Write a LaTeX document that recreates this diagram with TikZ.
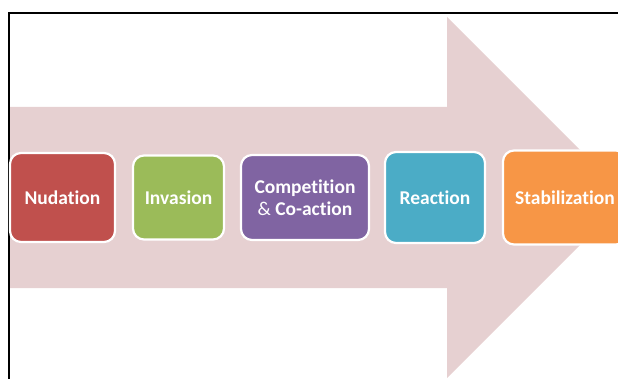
\documentclass[tikz,border=0pt]{standalone}
\usepackage{fontspec}
\setmainfont{Carlito}[Ligatures=NoCommon]
\usetikzlibrary{positioning}
\definecolor{pfeil}{RGB}{230,208,209}
\definecolor{rot}{RGB}{192,80,77}
\definecolor{gruen}{RGB}{155,187,89}
\definecolor{lila}{RGB}{128,100,162}
\definecolor{tuerkis}{RGB}{75,172,198}
\definecolor{orange}{RGB}{247,150,70}

\begin{document}
\begin{tikzpicture}[x=1pt,y=-1pt,
	stage/.style={rectangle, rounded corners=11pt, draw=white, line width=2.2pt,
		text=white, inner sep=0pt, outer sep=0pt, align=center,
		font=\bfseries\fontsize{19.5}{22.5}\selectfont},
	node distance=17pt]

	\useasboundingbox (0,0) rectangle (618,379);
	\clip (0,0) rectangle (618,379);

	% big arrow behind the stages
	\fill[pfeil] (9,107) -- (447,107) -- (447,17) -- (627.5,197.5)
		-- (447,378) -- (447,288) -- (9,288) -- cycle;

	% frame
	\draw[line width=2pt] (8.5,380) -- (8.5,13.5) -- (619,13.5);

	\node[stage, fill=rot, minimum width=105pt, minimum height=89pt] (nudation) at (62.5,197.5) {Nudation};
	\node[stage, fill=gruen, minimum width=91pt, minimum height=84pt, right=18pt of nudation] (invasion) {Invasion};
	\node[stage, fill=lila, minimum width=128pt, minimum height=85pt, right=of invasion] (competition) {Competition\\{\mdseries\&} Co-action};
	\node[stage, fill=tuerkis, minimum width=100pt, minimum height=91pt, right=16pt of competition] (reaction) {Reaction};
	\node[stage, fill=orange, minimum width=124pt, minimum height=94pt, right=18pt of reaction] (stabilization) {Stabilization};

\end{tikzpicture}
\end{document}
